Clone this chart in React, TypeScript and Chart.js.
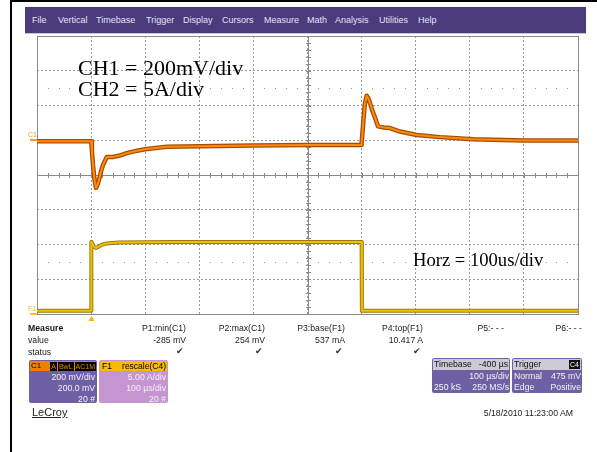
import React, { useEffect, useRef } from "react";
import { Chart, registerables } from "chart.js";
Chart.register(...registerables);

// ---- Data (time in µs, amplitude in divisions) ----
const c1Time = [0, 100, 101.5, 103.5, 106, 109, 111.5, 114.6, 118, 122, 129, 140, 153, 166, 185, 203, 240, 301, 400, 500, 599, 600, 603, 606, 609.4, 612, 615.5, 620, 624.8, 630.3, 640, 652.5, 671, 701.8, 745, 806, 900, 1000];
const c1Values = [0.97, 0.97, 0.7, 0.29, -0.1, -0.37, -0.3, -0.14, 0.08, 0.29, 0.52, 0.52, 0.56, 0.63, 0.7, 0.75, 0.81, 0.83, 0.85, 0.86, 0.86, 0.92, 1.5, 2.05, 2.28, 2.22, 2.07, 1.85, 1.65, 1.4, 1.37, 1.35, 1.25, 1.15, 1.09, 1.03, 0.99, 0.99];

const f1Time = [0, 100, 100.5, 103, 106, 109, 113, 118, 123, 129, 150, 250, 400, 600, 600.5, 1000];
const f1Values = [-3.91, -3.91, -1.92, -2.0, -2.08, -2.1, -2.07, -2.02, -1.99, -1.97, -1.94, -1.93, -1.93, -1.93, -3.91, -3.91];

const menuItems = ["File", "Vertical", "Timebase", "Trigger", "Display", "Cursors", "Measure", "Math", "Analysis", "Utilities", "Help"];
const measureNames = ["P1:min(C1)", "P2:max(C1)", "P3:base(F1)", "P4:top(F1)", "P5:- - -", "P6:- - -"];
const measureValues = ["-285 mV", "254 mV", "537 mA", "10.417 A", "", ""];
const measureStatus = [true, true, true, true, false, false];

const toPts = (xs: number[], ys: number[]) => xs.map((x, i) => ({ x, y: ys[i] }));

const scopePlugin = {
  id: "scope",
  beforeDatasetsDraw(chart: any) {
    const { ctx, chartArea: a } = chart;
    const xs = chart.scales.x;
    const ys = chart.scales.y;
    ctx.save();
    ctx.fillStyle = "#9a9a9a";
    for (const v of [2.5, -2.5]) {
      const py = Math.round(ys.getPixelForValue(v));
      for (let t = 20; t < 1000; t += 20) {
        if (t % 100 === 0) continue;
        const px = Math.round(xs.getPixelForValue(t));
        ctx.fillRect(px, py, 1, 1);
      }
    }
    ctx.strokeStyle = "#8a8a8a";
    ctx.lineWidth = 1;
    const L = Math.round(a.left), T = Math.round(a.top), R = Math.round(a.right), B = Math.round(a.bottom);
    ctx.strokeRect(L + 0.5, T + 0.5, R - L, B - T);
    const cx = Math.round(xs.getPixelForValue(500)) + 0.5;
    const cy = Math.round(ys.getPixelForValue(0)) + 0.5;
    ctx.beginPath();
    ctx.moveTo(L, cy); ctx.lineTo(R, cy);
    ctx.moveTo(cx, T); ctx.lineTo(cx, B);
    for (let t = 0; t <= 1000; t += 20) {
      const px = Math.round(xs.getPixelForValue(t)) + 0.5;
      ctx.moveTo(px, cy - 2.5); ctx.lineTo(px, cy + 2.5);
    }
    for (let k = -20; k <= 20; k++) {
      const py = Math.round(ys.getPixelForValue(k * 0.2)) + 0.5;
      ctx.moveTo(cx - 2.5, py); ctx.lineTo(cx + 2.5, py);
    }
    ctx.stroke();
    ctx.restore();
  },
  afterDraw(chart: any) {
    const { ctx, chartArea: a } = chart;
    const xs = chart.scales.x;
    const ys = chart.scales.y;
    ctx.save();
    ctx.fillStyle = "#f59a30";
    const c1y = Math.round(ys.getPixelForValue(1));
    ctx.fillRect(a.left - 7, c1y - 1, 7, 2);
    ctx.fillStyle = "#f0c020";
    const f1y = Math.round(ys.getPixelForValue(-4));
    ctx.fillRect(a.left - 7, f1y - 1, 7, 2);
    const tx = Math.round(xs.getPixelForValue(100)) + 0.5;
    ctx.fillStyle = "#f5b800";
    ctx.beginPath();
    ctx.moveTo(tx, a.bottom + 2);
    ctx.lineTo(tx - 3, a.bottom + 7);
    ctx.lineTo(tx + 3, a.bottom + 7);
    ctx.closePath();
    ctx.fill();
    ctx.restore();
  },
};

const txt = (extra: React.CSSProperties): React.CSSProperties => ({
  position: "absolute",
  whiteSpace: "nowrap",
  lineHeight: 1,
  ...extra,
});

const serif = '"Liberation Serif", "Times New Roman", serif';

export default function App() {
  const ref = useRef<HTMLCanvasElement>(null);

  useEffect(() => {
    const chart = new Chart(ref.current!, {
      type: "line",
      data: {
        datasets: [
          { data: toPts(c1Time, c1Values), borderColor: "#ff8a10", borderWidth: 2, order: 0 },
          { data: toPts(c1Time, c1Values), borderColor: "#a84c00", borderWidth: 4.5, order: 1 },
          { data: toPts(f1Time, f1Values), borderColor: "#f0c000", borderWidth: 2, order: 2 },
          { data: toPts(f1Time, f1Values), borderColor: "#9a7a10", borderWidth: 4, order: 3 },
        ],
      },
      options: {
        responsive: false,
        animation: false,
        layout: { padding: { left: 37, top: 36, right: 19, bottom: 138 } },
        plugins: { legend: { display: false }, tooltip: { enabled: false } },
        elements: { point: { radius: 0 }, line: { tension: 0, borderCapStyle: "round", borderJoinStyle: "round" } },
        scales: {
          x: {
            type: "linear",
            min: 0,
            max: 1000,
            ticks: { display: false, stepSize: 100 },
            grid: { color: "#999999", drawTicks: false, lineWidth: 1 },
            border: { display: false, dash: [2, 2] },
            afterFit: (s: any) => { s.height = 0; },
          },
          y: {
            type: "linear",
            min: -4,
            max: 4,
            ticks: { display: false, stepSize: 1 },
            grid: { color: "#999999", drawTicks: false, lineWidth: 1 },
            border: { display: false, dash: [2, 2] },
            afterFit: (s: any) => { s.width = 0; },
          },
        },
      },
      plugins: [scopePlugin],
    } as any);
    return () => chart.destroy();
  }, []);

  const menuX = [32, 58, 96, 146, 183, 222, 264, 307, 335, 379, 418];
  const colRight = [186, 265, 345, 423, 504, 582];
  const small = 8.7;

  return (
    <div style={{ position: "fixed", left: 0, top: 0, width: 597, height: 452, background: "#fff", overflow: "hidden", fontFamily: '"Liberation Sans", Arial, sans-serif', color: "#1a1a1a" }}>
      <canvas ref={ref} width={597} height={452} style={{ position: "absolute", left: 0, top: 0, display: "block" }} />
      <div style={{ position: "absolute", left: 10, top: 0, width: 587, height: 2, background: "#000" }} />
      <div style={{ position: "absolute", left: 10, top: 0, width: 2, height: 452, background: "#000" }} />
      <div style={{ position: "absolute", left: 25, top: 7, width: 561, height: 26, background: "#4b3b7d" }} />
      <div style={{ position: "absolute", left: 25, top: 33, width: 561, height: 1, background: "#c8c8d0" }} />
      {menuItems.map((m, i) => (
        <div key={m} style={txt({ left: menuX[i], top: 15.5, fontSize: 9, color: "#e6e2f2" })}>{m}</div>
      ))}
      <div style={txt({ left: 78, top: 57, fontSize: 22, fontFamily: serif, color: "#000" })}>CH1 = 200mV/div</div>
      <div style={txt({ left: 78, top: 78, fontSize: 22, fontFamily: serif, color: "#000" })}>CH2 = 5A/div</div>
      <div style={txt({ left: 413, top: 251, fontSize: 18.6, fontFamily: serif, color: "#000" })}>Horz = 100us/div</div>
      <div style={txt({ left: 28, top: 131, fontSize: 7, color: "#f09a30" })}>C1</div>
      <div style={txt({ left: 28, top: 305, fontSize: 7, color: "#e8b820" })}>F1</div>
      <div style={txt({ left: 28, top: 324, fontSize: small, fontWeight: "bold" })}>Measure</div>
      <div style={txt({ left: 28, top: 336, fontSize: small })}>value</div>
      <div style={txt({ left: 28, top: 348, fontSize: small })}>status</div>
      {measureNames.map((n, i) => (
        <div key={n} style={txt({ right: 597 - colRight[i], top: 324, fontSize: small })}>{n}</div>
      ))}
      {measureValues.map((v, i) => (
        <div key={"v" + i} style={txt({ right: 597 - colRight[i], top: 336, fontSize: small })}>{v}</div>
      ))}
      {measureStatus.map((s, i) =>
        s ? (
          <div key={"s" + i} style={txt({ left: colRight[i] - 10, top: 347, fontSize: 9, color: "#333" })}>✔</div>
        ) : null
      )}
      <div style={{ position: "absolute", left: 29, top: 360, width: 68, height: 43, background: "#6f60a6", borderRadius: 2 }} />
      <div style={{ position: "absolute", left: 30, top: 361, width: 66, height: 10, background: "#f08000", display: "flex", alignItems: "center", fontSize: 8, lineHeight: 1 }}>
        <span style={{ marginLeft: 1, color: "#000" }}>C1</span>
        <span style={{ marginLeft: "auto", display: "flex", gap: 1 }}>
          <span style={{ background: "#000", color: "#f08000", padding: "1px 1px", fontSize: 7 }}>A</span>
          <span style={{ background: "#000", color: "#f08000", padding: "1px 1px", fontSize: 7 }}>BwL</span>
          <span style={{ background: "#000", color: "#f08000", padding: "1px 1px", fontSize: 7 }}>AC1M</span>
        </span>
      </div>
      <div style={txt({ right: 597 - 95, top: 373, fontSize: small, color: "#f2f2f2" })}>200 mV/div</div>
      <div style={txt({ right: 597 - 95, top: 384, fontSize: small, color: "#f2f2f2" })}>200.0 mV</div>
      <div style={txt({ right: 597 - 95, top: 395, fontSize: small, color: "#f2f2f2" })}>20 #</div>
      <div style={{ position: "absolute", left: 99, top: 360, width: 69, height: 43, background: "#c495d0", borderRadius: 2 }} />
      <div style={{ position: "absolute", left: 100, top: 361, width: 67, height: 10, background: "#f7bb00", display: "flex", alignItems: "center", fontSize: 8.5, lineHeight: 1, color: "#000" }}>
        <span style={{ marginLeft: 2 }}>F1</span>
        <span style={{ marginLeft: "auto", marginRight: 1 }}>rescale(C4)</span>
      </div>
      <div style={txt({ right: 597 - 166, top: 373, fontSize: small, color: "#f6f0f8" })}>5.00 A/div</div>
      <div style={txt({ right: 597 - 166, top: 384, fontSize: small, color: "#f6f0f8" })}>100 µs/div</div>
      <div style={txt({ right: 597 - 166, top: 395, fontSize: small, color: "#f6f0f8" })}>20 #</div>
      <div style={{ position: "absolute", left: 432, top: 358, width: 78, height: 35, background: "#6f60a6", borderRadius: 2 }} />
      <div style={{ position: "absolute", left: 433, top: 359, width: 76, height: 11, background: "#cdcad8", display: "flex", alignItems: "center", fontSize: small, lineHeight: 1, color: "#111" }}>
        <span style={{ marginLeft: 1 }}>Timebase</span>
        <span style={{ marginLeft: "auto", marginRight: 1 }}>-400 µs</span>
      </div>
      <div style={txt({ right: 597 - 509, top: 372, fontSize: small, color: "#f2f2f2" })}>100 µs/div</div>
      <div style={txt({ left: 434, top: 383, fontSize: small, color: "#f2f2f2" })}>250 kS</div>
      <div style={txt({ right: 597 - 509, top: 383, fontSize: small, color: "#f2f2f2" })}>250 MS/s</div>
      <div style={{ position: "absolute", left: 512, top: 358, width: 70, height: 35, background: "#6f60a6", borderRadius: 2 }} />
      <div style={{ position: "absolute", left: 513, top: 359, width: 68, height: 11, background: "#cdcad8", display: "flex", alignItems: "center", fontSize: small, lineHeight: 1, color: "#111" }}>
        <span style={{ marginLeft: 1 }}>Trigger</span>
        <span style={{ marginLeft: "auto", marginRight: 1, background: "#111", color: "#fff", fontSize: 7, padding: "1px 1px" }}>C4</span>
      </div>
      <div style={txt({ left: 514, top: 372, fontSize: small, color: "#f2f2f2" })}>Normal</div>
      <div style={txt({ right: 597 - 581, top: 372, fontSize: small, color: "#f2f2f2" })}>475 mV</div>
      <div style={txt({ left: 514, top: 383, fontSize: small, color: "#f2f2f2" })}>Edge</div>
      <div style={txt({ right: 597 - 581, top: 383, fontSize: small, color: "#f2f2f2" })}>Positive</div>
      <div style={txt({ left: 32, top: 407, fontSize: 11, color: "#222", textDecoration: "underline" })}>LeCroy</div>
      <div style={txt({ right: 597 - 573, top: 409, fontSize: small, color: "#222" })}>5/18/2010 11:23:00 AM</div>
    </div>
  );
}
